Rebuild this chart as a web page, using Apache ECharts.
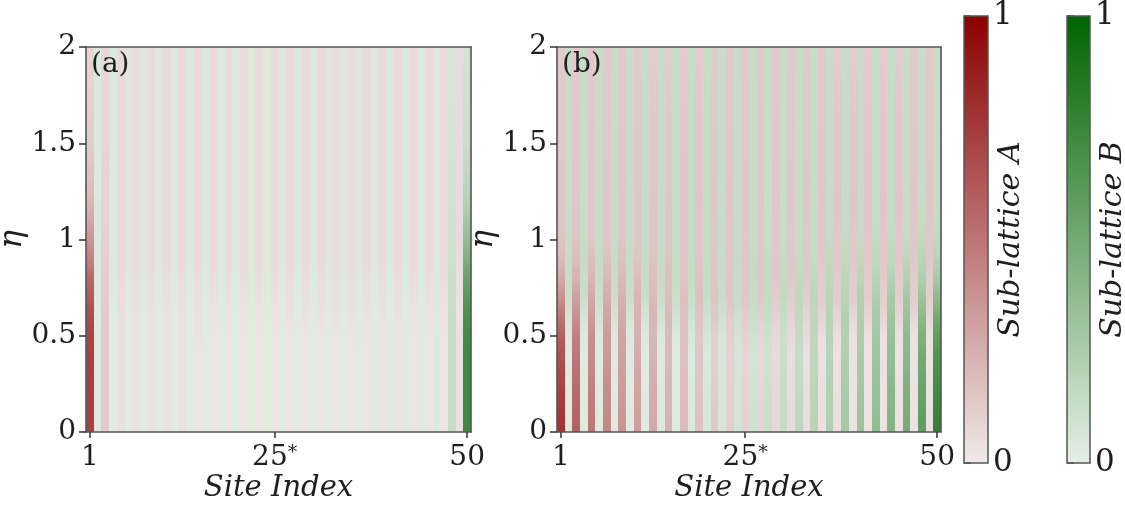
<!DOCTYPE html>
<html>
<head>
<meta charset="utf-8">
<title>Sub-lattice densities vs eta</title>
<script src="https://cdn.jsdelivr.net/npm/echarts@6/dist/echarts.min.js"></script>
<style>
  html, body { margin: 0; padding: 0; background: #ffffff; }
  #chart { width: 1125px; height: 508px; }
</style>
</head>
<body>
<div id="chart"></div>
<script>
// ---- data -------------------------------------------------------------
const sites = [1, 2, 3, 4, 5, 6, 7, 8, 9, 10, 11, 12, 13, 14, 15, 16, 17, 18, 19, 20,
               21, 22, 23, 24, 25, 26, 27, 28, 29, 30, 31, 32, 33, 34, 35, 36, 37, 38, 39, 40,
               41, 42, 43, 44, 45, 46, 47, 48, 49, 50];
const siteTicks = [1, 25, 50];
const etaTicks = [0, 0.5, 1, 1.5, 2];
const etaSamples = [0, 0.2, 0.4, 0.5, 0.6, 0.7, 0.8, 0.9, 1.0, 1.2, 1.5, 2.0];
const colorbarLevels = [0, 1];
// odd sites belong to sub-lattice A, even sites to sub-lattice B
const cmapA = ['#efe9e9', '#8b0000'];
const cmapB = ['#e6efe6', '#006400'];

// panel (a): density in percent, one row per eta sample, one entry per site
const densityPanelA = [
  /* 0.0 */ [73,4,13,2,4,2,3,2,3,2, 3,2,3,2,2,2,2,2,2,2, 2,2,2,2,2,2,2,2,2,2, 2,2,2,2,2,2,2,3,2,3, 2,3,2,3,2,4,2,13,4,73],
  /* 0.2 */ [73,4,13,2,4,2,3,2,3,2, 3,2,3,2,2,2,2,2,2,2, 2,2,2,2,2,2,2,2,2,2, 2,2,2,2,2,2,2,3,2,3, 2,3,2,3,2,4,2,13,4,73],
  /* 0.4 */ [72,4,13,2,4,2,3,2,3,2, 3,2,3,2,2,2,2,2,2,2, 2,2,2,2,2,2,2,2,2,2, 2,2,2,2,2,2,2,3,2,3, 2,3,2,3,2,4,2,13,4,72],
  /* 0.5 */ [71,4,13,2,4,2,3,2,3,2, 3,2,3,2,3,2,2,2,2,2, 2,2,2,2,2,2,2,2,2,2, 2,2,2,2,2,3,2,3,2,3, 2,3,2,3,2,4,2,13,4,71],
  /* 0.6 */ [68,3,13,2,4,2,3,2,3,2, 3,2,3,2,3,2,3,2,3,2, 3,2,3,2,3,2,3,2,3,2, 3,2,3,2,3,2,3,2,3,2, 3,2,3,2,3,4,3,13,3,68],
  /* 0.7 */ [62,4,12,3,5,3,4,3,4,3, 4,3,4,3,4,3,4,3,4,3, 4,3,4,3,4,3,4,3,4,3, 4,3,4,3,4,3,4,3,4,3, 4,3,4,3,4,5,4,12,4,62],
  /* 0.8 */ [55,4,12,4,6,4,5,4,5,4, 5,4,5,4,5,4,5,4,5,4, 5,4,5,4,5,4,5,4,5,4, 5,4,5,4,5,4,5,4,5,4, 5,4,5,4,5,5,5,12,4,55],
  /* 0.9 */ [45,5,11,5,6,5,6,5,6,5, 6,5,6,5,6,5,6,5,6,5, 6,5,6,5,6,5,6,5,6,5, 6,5,6,5,6,5,6,5,6,5, 6,5,6,5,6,5,6,11,5,45],
  /* 1.0 */ [36,5,10,5,6,5,6,5,6,5, 6,5,6,5,6,5,6,5,6,5, 6,5,6,5,6,5,6,5,6,5, 6,5,6,5,6,5,6,5,6,5, 6,5,6,5,6,5,6,10,6,36],
  /* 1.2 */ [21,5,9,5,6,5,6,5,6,5, 6,5,6,5,6,5,6,5,6,5, 6,5,6,5,6,5,6,5,6,5, 6,5,6,5,6,5,6,5,6,5, 6,5,6,5,6,5,6,9,6,21],
  /* 1.5 */ [12,5,8,5,6,5,6,5,6,5, 6,5,6,5,6,5,6,5,6,5, 6,5,6,5,6,5,6,5,6,5, 6,5,6,5,6,5,6,5,6,5, 6,5,6,5,6,5,6,8,6,12],
  /* 2.0 */ [8,5,7,5,6,5,6,5,6,5, 6,5,6,5,6,5,6,5,6,5, 6,5,6,5,6,5,6,5,6,5, 6,5,6,5,6,5,6,5,6,5, 6,5,6,5,6,5,6,7,6,8]
];

// panel (b): density in percent, one row per eta sample, one entry per site
const densityPanelB = [
  /* 0.0 */ [79,3,59,3,49,3,43,3,37,3, 32,3,28,4,24,4,20,5,17,6, 14,7,12,8,10,10,8,12,7,14, 6,17,5,20,4,24,4,28,3,32, 3,37,3,43,3,49,3,59,3,79],
  /* 0.2 */ [73,3,55,3,46,3,40,3,34,3, 30,3,26,4,22,4,19,5,16,6, 13,7,11,8,9,9,8,11,7,13, 6,16,5,19,4,22,4,26,3,30, 3,34,3,40,3,46,3,55,3,73],
  /* 0.4 */ [65,3,49,3,40,3,35,3,31,3, 26,3,23,3,20,3,17,4,14,5, 12,6,10,7,8,8,7,10,6,12, 5,14,4,17,3,20,3,23,3,26, 3,31,3,35,3,40,3,49,3,65],
  /* 0.5 */ [59,4,45,4,38,4,33,4,29,4, 25,4,22,5,20,5,17,6,15,7, 12,7,11,8,10,10,8,11,7,12, 7,15,6,17,5,20,5,22,4,25, 4,29,4,33,4,38,4,45,4,59],
  /* 0.6 */ [50,8,39,8,33,8,30,8,27,8, 24,8,22,9,20,9,17,9,16,10, 14,10,13,11,12,12,11,13,10,14, 10,16,9,17,9,20,9,22,8,24, 8,27,8,30,8,33,8,39,8,50],
  /* 0.7 */ [38,12,31,12,28,12,26,12,24,12, 22,12,20,12,19,12,18,12,17,13, 16,13,15,14,14,14,14,15,13,16, 13,17,12,18,12,19,12,20,12,22, 12,24,12,26,12,28,12,31,12,38],
  /* 0.8 */ [27,13,23,13,22,13,21,13,20,13, 19,13,18,13,17,13,16,14,16,14, 15,14,15,14,15,15,14,15,14,15, 14,16,14,16,13,17,13,18,13,19, 13,20,13,21,13,22,13,23,13,27],
  /* 0.9 */ [20,14,19,14,18,14,17,14,17,14, 16,14,16,14,16,14,15,14,15,14, 15,14,15,15,15,15,15,15,14,15, 14,15,14,15,14,16,14,16,14,16, 14,17,14,17,14,18,14,19,14,20],
  /* 1.0 */ [16,14,16,14,15,14,15,14,15,14, 15,14,15,14,15,14,15,14,14,14, 14,14,14,14,14,14,14,14,14,14, 14,14,14,15,14,15,14,15,14,15, 14,15,14,15,14,15,14,16,14,16],
  /* 1.2 */ [15,14,15,14,15,14,15,14,15,14, 15,14,15,14,15,14,15,14,15,14, 15,14,15,14,15,14,15,14,15,14, 15,14,15,14,15,14,15,14,15,14, 15,14,15,14,15,14,15,14,15,14],
  /* 1.5 */ [14,14,14,14,14,14,14,14,14,14, 14,14,14,14,14,14,14,14,14,14, 14,14,14,14,14,14,14,14,14,14, 14,14,14,14,14,14,14,14,14,14, 14,14,14,14,14,14,14,14,14,14],
  /* 2.0 */ [13,13,13,13,13,13,13,13,13,13, 13,13,13,13,13,13,13,13,13,13, 13,13,13,13,13,13,13,13,13,13, 13,13,13,13,13,13,13,13,13,13, 13,13,13,13,13,13,13,13,13,13]
];

// ---- styling ----------------------------------------------------------
const SERIF = 'DejaVu Serif';
const INK = '#1e1e1e';
const SPINE = '#555555';
const etaMax = etaTicks[etaTicks.length - 1];

// one column of values (as fractions) per site
function columnsOf(table) {
  return sites.map((s, j) => table.map(row => row[j] / 100));
}
const columnsA = columnsOf(densityPanelA);
const columnsB = columnsOf(densityPanelB);

function colorFor(site, v) {
  return echarts.color.lerp(Math.max(0, Math.min(1, v)), site % 2 === 1 ? cmapA : cmapB);
}

// each site is a full-height strip, shaded smoothly between its eta samples
function stripRenderer(columns) {
  return function (params, api) {
    const s = api.value(0);
    const col = columns[params.dataIndex];
    const tl = api.coord([s - 0.5, etaMax]);
    const br = api.coord([s + 0.5, 0]);
    const stops = [];
    for (let i = etaSamples.length - 1; i >= 0; i--) {
      stops.push({ offset: 1 - etaSamples[i] / etaMax, color: colorFor(s, col[i]) });
    }
    const x0 = Math.round(tl[0]);
    const x1 = Math.round(br[0]);
    return {
      type: 'rect',
      shape: { x: x0, y: tl[1], width: x1 - x0, height: br[1] - tl[1] },
      style: { fill: new echarts.graphic.LinearGradient(0, 0, 0, 1, stops) }
    };
  };
}

function colorbarRenderer(cmap) {
  return function (params, api) {
    const tl = api.coord([0, colorbarLevels[1]]);
    const br = api.coord([1, colorbarLevels[0]]);
    const stops = colorbarLevels.map((lv, i) => ({ offset: 1 - lv, color: cmap[i] }));
    return {
      type: 'rect',
      shape: { x: tl[0], y: tl[1], width: br[0] - tl[0], height: br[1] - tl[1] },
      style: { fill: new echarts.graphic.LinearGradient(0, 0, 0, 1, stops), stroke: SPINE, lineWidth: 1.5 }
    };
  };
}

const tickFont = { fontFamily: SERIF, fontSize: 28, color: INK };
const nameFont = { fontFamily: SERIF, fontStyle: 'italic', fontSize: 29, color: INK };

function siteAxis(g) {
  return {
    gridIndex: g, type: 'value', min: 0.5, max: 50.5, position: 'bottom', z: 10,
    axisLine: { show: true, onZero: false, lineStyle: { color: SPINE, width: 1.6 } },
    axisTick: { show: true, customValues: siteTicks, length: 6, lineStyle: { color: '#333', width: 1.5 } },
    axisLabel: {
      ...tickFont, margin: 12, customValues: siteTicks,
      formatter: v => (v === 25 ? '25{s|*}' : String(v)),
      rich: { s: { fontFamily: SERIF, fontSize: 19, color: INK, verticalAlign: 'top' } }
    },
    splitLine: { show: false },
    name: 'Site Index', nameLocation: 'middle', nameGap: 42, nameTextStyle: nameFont, nameMoveOverlap: false
  };
}
function topFrame(g) {
  return {
    gridIndex: g, type: 'value', min: 0.5, max: 50.5, position: 'top', z: 10,
    axisLine: { show: true, onZero: false, lineStyle: { color: SPINE, width: 1.6 } },
    axisTick: { show: false }, axisLabel: { show: false }, splitLine: { show: false }
  };
}
function etaAxis(g) {
  return {
    gridIndex: g, type: 'value', min: 0, max: etaMax, interval: 0.5, position: 'left', z: 10,
    axisLine: { show: true, onZero: false, lineStyle: { color: SPINE, width: 1.6 } },
    axisTick: { show: true, length: 7, lineStyle: { color: '#333', width: 1.5 } },
    axisLabel: { ...tickFont, margin: 10, showMinLabel: true, showMaxLabel: true },
    splitLine: { show: false },
    name: 'η', nameLocation: 'middle', nameGap: 58, nameRotate: 90,
    nameTextStyle: { ...nameFont, fontSize: 31 }, nameMoveOverlap: false
  };
}
function rightFrame(g) {
  return {
    gridIndex: g, type: 'value', min: 0, max: etaMax, position: 'right', z: 10,
    axisLine: { show: true, onZero: false, lineStyle: { color: SPINE, width: 1.6 } },
    axisTick: { show: false }, axisLabel: { show: false }, splitLine: { show: false }
  };
}
function colorbarX(g) {
  return { gridIndex: g, type: 'value', min: 0, max: 1, show: false };
}
function colorbarY(g, label) {
  return {
    gridIndex: g, type: 'value', min: colorbarLevels[0], max: colorbarLevels[1], interval: 1, position: 'right', z: 10,
    axisLine: { show: false },
    axisTick: { show: true, length: 7, lineStyle: { color: SPINE, width: 1.5 } },
    axisLabel: { ...tickFont, fontSize: 31, margin: 5, showMinLabel: true, showMaxLabel: true },
    splitLine: { show: false },
    name: label, nameLocation: 'middle', nameGap: 8, nameRotate: 90,
    nameTextStyle: { ...nameFont, fontSize: 30 }, nameMoveOverlap: false
  };
}

const gridBase = { containLabel: false, outerBoundsMode: 'none', show: false };
const panelLabelStyle = { fontFamily: SERIF, fontSize: 28, fontWeight: 'normal', color: INK };

const option = {
  backgroundColor: '#ffffff',
  animation: false,
  title: [
    { text: '(a)', left: 91, top: 51, padding: 0, textStyle: panelLabelStyle },
    { text: '(b)', left: 562, top: 51, padding: 0, textStyle: panelLabelStyle }
  ],
  grid: [
    { ...gridBase, left: 86, top: 47, width: 385, height: 385 },
    { ...gridBase, left: 557, top: 47, width: 384, height: 385 },
    { ...gridBase, left: 964, top: 16, width: 24, height: 447 },
    { ...gridBase, left: 1067, top: 16, width: 23, height: 447 }
  ],
  xAxis: [siteAxis(0), topFrame(0), siteAxis(1), topFrame(1), colorbarX(2), colorbarX(3)],
  yAxis: [etaAxis(0), rightFrame(0), etaAxis(1), rightFrame(1),
          colorbarY(2, 'Sub-lattice A'), colorbarY(3, 'Sub-lattice B')],
  series: [
    { type: 'custom', name: 'panel a', coordinateSystem: 'cartesian2d', xAxisIndex: 0, yAxisIndex: 0,
      clip: true, silent: true, encode: { x: 0, y: 1 },
      data: sites.map(s => [s, 1]), renderItem: stripRenderer(columnsA) },
    { type: 'custom', name: 'panel b', coordinateSystem: 'cartesian2d', xAxisIndex: 2, yAxisIndex: 2,
      clip: true, silent: true, encode: { x: 0, y: 1 },
      data: sites.map(s => [s, 1]), renderItem: stripRenderer(columnsB) },
    { type: 'custom', name: 'Sub-lattice A', coordinateSystem: 'cartesian2d', xAxisIndex: 4, yAxisIndex: 4,
      silent: true, data: [[0.5, 0.5]], renderItem: colorbarRenderer(cmapA) },
    { type: 'custom', name: 'Sub-lattice B', coordinateSystem: 'cartesian2d', xAxisIndex: 5, yAxisIndex: 5,
      silent: true, data: [[0.5, 0.5]], renderItem: colorbarRenderer(cmapB) }
  ]
};

const chart = echarts.init(document.getElementById('chart'), null, { renderer: 'canvas' });
chart.setOption(option);
</script>
</body>
</html>
